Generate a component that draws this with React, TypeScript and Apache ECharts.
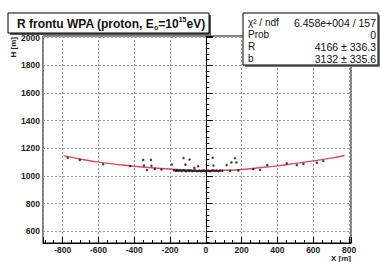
import React, { useEffect, useRef } from "react";
import * as echarts from "echarts";

// Measured points (X [m], H [m])
const pointX = [
  -772, -704, -574, -424, -350, -307, -346, -304, -329, -285, -248, -190, -164,
  -125, -91, -114, -64, -43, 38, 42, 116, 143, 163, 171, 135, 181, 265, 303, 343,
  452, 508, 545, 620, 656,
  -178, -168, -160, -152, -143, -135, -126, -118, -110, -101, -93, -85, -76, -68,
  -60, -51, -43, -35, -26, -18, -10, -2, 6, 15, 24, 33, 42, 51, 60, 70, 80, 92,
];
const pointH = [
  1132, 1116, 1085, 1072, 1116, 1116, 1076, 1074, 1043, 1051, 1047, 1083, 1038,
  1130, 1119, 1082, 1058, 1070, 1132, 1076, 1079, 1098, 1128, 1098, 1038, 1040, 1051, 1043, 1079,
  1092, 1079, 1087, 1096, 1108,
  1041, 1038, 1043, 1037, 1040, 1036, 1041, 1038, 1035, 1039, 1036, 1040, 1035, 1038,
  1039, 1034, 1036, 1038, 1035, 1037, 1039, 1034, 1036, 1038, 1035, 1037, 1040, 1036, 1038, 1035, 1039, 1037,
];

// Fit curve
const fitX = [-795, -700, -600, -500, -400, -300, -200, -100, 0, 100, 200, 300, 400, 500, 600, 700, 775];
const fitH = [1147, 1122, 1100, 1084, 1070, 1059, 1050, 1043, 1040, 1041, 1047, 1059, 1073, 1091, 1109, 1129, 1148];

const statLabels = ["χ² / ndf", "Prob", "R", "b"];
const statValues = ["6.458e+004 / 157", "0", "4166 ± 336.3", "3132 ± 335.6"];

const xTitle = "X [m]";
const yTitle = "H [m]";

const FONT = "'Liberation Sans', Arial, Helvetica, sans-serif";

export default function App() {
  const ref = useRef<HTMLDivElement>(null);
  useEffect(() => {
    document.body.style.margin = "0";
    const chart = echarts.init(ref.current as HTMLDivElement, null, {
      renderer: "svg",
      width: 380,
      height: 262,
    });

    const scatterData = pointX.map((x, i) => [x, pointH[i]]);
    const fitData = fitX.map((x, i) => [x, fitH[i]]);

    const statsGraphics: any[] = [];
    statLabels.forEach((lab, i) => {
      const y = 22.5 + i * 12;
      statsGraphics.push({
        type: "text",
        x: 248,
        y,
        z: 102,
        style: {
          text: lab,
          fill: "#111",
          font: `10px ${FONT}`,
          align: "left",
          verticalAlign: "middle",
        },
      });
      statsGraphics.push({
        type: "text",
        x: 376,
        y,
        z: 102,
        style: {
          text: statValues[i],
          fill: "#111",
          font: `10.5px ${FONT}`,
          align: "right",
          verticalAlign: "middle",
        },
      });
    });

    const axisLabel = {
      color: "#222",
      fontSize: 8.5,
      fontWeight: "bold",
      fontFamily: FONT,
      showMinLabel: false,
      showMaxLabel: false,
      margin: 3,
      formatter: (v: number) => String(v),
    };

    chart.setOption({
      animation: false,
      backgroundColor: "#ffffff",
      grid: {
        left: 43,
        top: 36,
        width: 308,
        height: 207,
        show: true,
        backgroundColor: "#ffffff",
        borderColor: "#000",
        borderWidth: 1,
        containLabel: false,
        outerBoundsMode: "none",
      },
      xAxis: {
        type: "value",
        min: -910,
        max: 811,
        splitNumber: 8,
        axisLine: { show: true, lineStyle: { color: "#000", width: 1 } },
        axisTick: { show: true, inside: true, length: 6, lineStyle: { color: "#000" } },
        minorTick: { show: true, splitNumber: 4, length: 3, lineStyle: { color: "#000" } },
        splitLine: { show: true, lineStyle: { color: "#9a9a9a", type: [2, 2], width: 1 } },
        axisLabel: { ...axisLabel, margin: 2 },
      },
      yAxis: {
        type: "value",
        min: 516,
        max: 2011,
        splitNumber: 7,
        axisLine: { show: true, lineStyle: { color: "#000", width: 1 } },
        axisTick: { show: true, inside: true, length: 7, lineStyle: { color: "#000" } },
        minorTick: { show: true, splitNumber: 5, length: 3.5, lineStyle: { color: "#000" } },
        splitLine: { show: true, lineStyle: { color: "#9a9a9a", type: [2, 2], width: 1 } },
        axisLabel,
      },
      series: [
        {
          type: "line",
          data: fitData,
          smooth: true,
          showSymbol: false,
          symbol: "none",
          lineStyle: { color: "#dc4a5e", width: 1.4 },
          z: 2,
        },
        {
          type: "scatter",
          data: scatterData,
          symbol: "circle",
          symbolSize: 2.5,
          itemStyle: { color: "#111" },
          z: 3,
        },
      ],
      graphic: [
        // Title box with shadow
        { type: "rect", z: 100, shape: { x: 10, y: 15, width: 201, height: 20 }, style: { fill: "#555" } },
        { type: "rect", z: 101, shape: { x: 8, y: 13, width: 201, height: 20 }, style: { fill: "#fff", stroke: "#000", lineWidth: 1 } },
        {
          type: "text",
          z: 102,
          x: 17,
          y: 23.5,
          style: {
            text: "{a|R frontu WPA (proton, E}{sub|o}{a|=10}{sup|15}{a|eV)}",
            verticalAlign: "middle",
            align: "left",
            rich: {
              a: { fontSize: 12, fontWeight: "bold", fontFamily: FONT, fill: "#111", color: "#111", lineHeight: 15, verticalAlign: "middle" },
              sub: { fontSize: 7, fontWeight: "bold", fontFamily: FONT, fill: "#111", color: "#111", lineHeight: 15, verticalAlign: "bottom" },
              sup: { fontSize: 7, fontWeight: "bold", fontFamily: FONT, fill: "#111", color: "#111", lineHeight: 15, verticalAlign: "top" },
            },
          },
        },
        // Stats box
        { type: "rect", z: 100, shape: { x: 245, y: 15, width: 135, height: 52 }, style: { fill: "#777" } },
        { type: "rect", z: 101, shape: { x: 243, y: 13, width: 135, height: 52 }, style: { fill: "#fff", stroke: "#000", lineWidth: 1 } },
        ...statsGraphics,
        // Axis titles
        {
          type: "text",
          z: 102,
          x: 351,
          y: 262,
          style: { text: xTitle, font: `bold 8px ${FONT}`, fill: "#222", align: "right", verticalAlign: "bottom" },
        },
        {
          type: "text",
          z: 102,
          x: 13,
          y: 37,
          rotation: Math.PI / 2,
          style: { text: yTitle, font: `bold 8px ${FONT}`, fill: "#222", align: "right", verticalAlign: "middle" },
        },
      ],
    });
    return () => chart.dispose();
  }, []);
  return <div ref={ref} style={{ width: 380, height: 262 }} />;
}
